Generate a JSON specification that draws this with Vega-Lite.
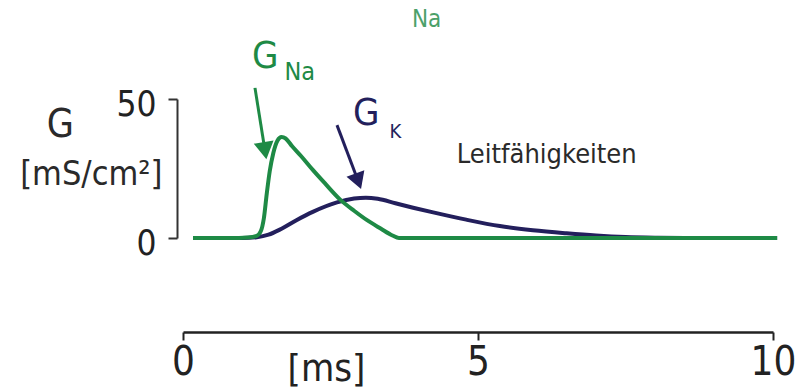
{
  "$schema": "https://vega.github.io/schema/vega-lite/v6.json",
  "width": 590,
  "height": 139,
  "autosize": {"type": "none"},
  "padding": {"left": 183, "top": 99, "right": 32, "bottom": 151},
  "background": "white",
  "config": {
    "view": {"stroke": null},
    "font": "Liberation Sans Narrow, Arial Narrow, DejaVu Sans Condensed, Liberation Sans",
    "text": {"font": "Liberation Sans Narrow, Arial Narrow, DejaVu Sans Condensed, Liberation Sans"}
  },
  "datasets": {
    "curves": [
      {"series": "GK", "t": 0.17, "g": 0},
      {"series": "GK", "t": 1.0, "g": 0},
      {"series": "GK", "t": 1.25, "g": 0.3},
      {"series": "GK", "t": 1.45, "g": 1.2},
      {"series": "GK", "t": 1.64, "g": 3},
      {"series": "GK", "t": 1.93, "g": 6.5},
      {"series": "GK", "t": 2.2, "g": 9.4},
      {"series": "GK", "t": 2.61, "g": 12.8},
      {"series": "GK", "t": 2.9, "g": 14.2},
      {"series": "GK", "t": 3.1, "g": 14.5},
      {"series": "GK", "t": 3.3, "g": 14.1},
      {"series": "GK", "t": 3.6, "g": 12.5},
      {"series": "GK", "t": 3.9, "g": 10.9},
      {"series": "GK", "t": 4.24, "g": 9.2},
      {"series": "GK", "t": 4.8, "g": 6.6},
      {"series": "GK", "t": 5.37, "g": 4.3},
      {"series": "GK", "t": 5.93, "g": 2.8},
      {"series": "GK", "t": 6.5, "g": 1.7},
      {"series": "GK", "t": 7.0, "g": 0.9},
      {"series": "GK", "t": 7.5, "g": 0.35},
      {"series": "GK", "t": 8.0, "g": 0.1},
      {"series": "GK", "t": 8.5, "g": 0},
      {"series": "GK", "t": 10.07, "g": 0},
      {"series": "GNa", "t": 0.17, "g": 0},
      {"series": "GNa", "t": 0.8, "g": 0},
      {"series": "GNa", "t": 1.1, "g": 0.2},
      {"series": "GNa", "t": 1.25, "g": 0.8},
      {"series": "GNa", "t": 1.32, "g": 2.5},
      {"series": "GNa", "t": 1.37, "g": 7},
      {"series": "GNa", "t": 1.42, "g": 16},
      {"series": "GNa", "t": 1.47, "g": 24},
      {"series": "GNa", "t": 1.53, "g": 30.5},
      {"series": "GNa", "t": 1.6, "g": 35},
      {"series": "GNa", "t": 1.67, "g": 36.3},
      {"series": "GNa", "t": 1.74, "g": 35.8},
      {"series": "GNa", "t": 1.85, "g": 33},
      {"series": "GNa", "t": 2.0, "g": 29.5},
      {"series": "GNa", "t": 2.2, "g": 24.5},
      {"series": "GNa", "t": 2.4, "g": 19.8},
      {"series": "GNa", "t": 2.66, "g": 13.9},
      {"series": "GNa", "t": 2.9, "g": 9.8},
      {"series": "GNa", "t": 3.12, "g": 6.4},
      {"series": "GNa", "t": 3.35, "g": 3.4},
      {"series": "GNa", "t": 3.55, "g": 0.9},
      {"series": "GNa", "t": 3.66, "g": 0},
      {"series": "GNa", "t": 10.07, "g": 0}
    ],
    "arrows": [
      {"series": "GNa", "t": 1.22, "g": 54, "t2": 1.39, "g2": 31.4},
      {"series": "GK", "t": 2.61, "g": 40.6, "t2": 2.97, "g2": 20.4}
    ]
  },
  "layer": [
    {
      "data": {"name": "curves"},
      "transform": [{"filter": "datum.series == 'GK'"}],
      "mark": {"type": "line", "color": "#231f5c", "strokeWidth": 4, "interpolate": "monotone"},
      "encoding": {
        "x": {"field": "t", "type": "quantitative", "scale": {"domain": [0, 10], "nice": false},
          "axis": {"orient": "bottom", "offset": 94, "values": [0, 5, 10], "format": "d", "grid": false, "labelFlush": false,
            "domainColor": "#222", "domainWidth": 2.5, "tickColor": "#222", "tickWidth": 2, "tickSize": 8,
            "labelFontSize": 40, "labelColor": "#222", "labelPadding": 2, "labelFontWeight": "normal",
            "title": "[ms]", "titleFontSize": 38, "titleFontWeight": "normal", "titleColor": "#222",
            "titleX": 143, "titleY": 48, "titleAlign": "center", "titleBaseline": "alphabetic"}},
        "y": {"field": "g", "type": "quantitative", "scale": {"domain": [0, 50], "nice": false},
          "axis": {"orient": "left", "offset": 6, "values": [0, 50], "format": "d", "grid": false, "labelFlush": false,
            "labelOffset": 5, "labelBaseline": "middle",
            "domainColor": "#333", "domainWidth": 2, "tickColor": "#333", "tickWidth": 2, "tickSize": 9,
            "labelFontSize": 35, "labelColor": "#222", "labelPadding": 12, "title": null}}
      }
    },
    {
      "data": {"name": "curves"},
      "transform": [{"filter": "datum.series == 'GNa'"}],
      "mark": {"type": "line", "color": "#1e8a45", "strokeWidth": 4, "interpolate": "monotone"},
      "encoding": {
        "x": {"field": "t", "type": "quantitative"},
        "y": {"field": "g", "type": "quantitative"}
      }
    },
    {
      "data": {"name": "arrows"},
      "mark": {"type": "rule", "strokeWidth": 3},
      "encoding": {
        "x": {"field": "t", "type": "quantitative"},
        "y": {"field": "g", "type": "quantitative"},
        "x2": {"field": "t2"},
        "y2": {"field": "g2"},
        "color": {"field": "series", "type": "nominal", "scale": {"domain": ["GNa", "GK"], "range": ["#1e8a45", "#231f5c"]}, "legend": null}
      }
    },
    {
      "data": {"name": "arrows"},
      "transform": [{"filter": "datum.series == 'GNa'"}],
      "mark": {"type": "point", "shape": "triangle-down", "filled": true, "size": 400, "angle": -9, "opacity": 1, "color": "#1e8a45"},
      "encoding": {
        "x": {"field": "t2", "type": "quantitative"},
        "y": {"field": "g2", "type": "quantitative"}
      }
    },
    {
      "data": {"name": "arrows"},
      "transform": [{"filter": "datum.series == 'GK'"}],
      "mark": {"type": "point", "shape": "triangle-down", "filled": true, "size": 360, "angle": -20, "opacity": 1, "color": "#231f5c"},
      "encoding": {
        "x": {"field": "t2", "type": "quantitative"},
        "y": {"field": "g2", "type": "quantitative"}
      }
    },
    {
      "data": {"values": [
        {"label": "G", "series": "GNa", "t": 1.17, "g": 61.2},
        {"label": "G", "series": "GK", "t": 2.88, "g": 40.6}
      ]},
      "mark": {"type": "text", "fontSize": 38, "align": "left", "baseline": "alphabetic"},
      "encoding": {
        "x": {"field": "t", "type": "quantitative"},
        "y": {"field": "g", "type": "quantitative"},
        "text": {"field": "label"},
        "color": {"field": "series", "type": "nominal", "legend": null}
      }
    },
    {
      "data": {"values": [{"label": "Na", "t": 1.72, "g": 56.8}]},
      "mark": {"type": "text", "fontSize": 25, "align": "left", "baseline": "alphabetic", "color": "#1e8a45"},
      "encoding": {
        "x": {"field": "t", "type": "quantitative"},
        "y": {"field": "g", "type": "quantitative"},
        "text": {"field": "label"}
      }
    },
    {
      "data": {"values": [{"label": "Na", "t": 3.88, "g": 75.9}]},
      "mark": {"type": "text", "fontSize": 24, "align": "left", "baseline": "alphabetic", "color": "#1e8a45", "opacity": 0.8},
      "encoding": {
        "x": {"field": "t", "type": "quantitative"},
        "y": {"field": "g", "type": "quantitative"},
        "text": {"field": "label"}
      }
    },
    {
      "data": {"values": [{"label": "K", "t": 3.5, "g": 36}]},
      "mark": {"type": "text", "fontSize": 20, "align": "left", "baseline": "alphabetic", "color": "#231f5c"},
      "encoding": {
        "x": {"field": "t", "type": "quantitative"},
        "y": {"field": "g", "type": "quantitative"},
        "text": {"field": "label"}
      }
    },
    {
      "data": {"values": [{"label": "Leitfähigkeiten", "t": 4.64, "g": 27}]},
      "mark": {"type": "text", "fontSize": 27, "align": "left", "baseline": "alphabetic", "color": "#2a2a2a"},
      "encoding": {
        "x": {"field": "t", "type": "quantitative"},
        "y": {"field": "g", "type": "quantitative"},
        "text": {"field": "label"}
      }
    },
    {
      "data": {"values": [{"label": "G", "t": -2.31, "g": 36.3}]},
      "mark": {"type": "text", "fontSize": 39, "align": "left", "baseline": "alphabetic", "color": "#2a2a2a"},
      "encoding": {
        "x": {"field": "t", "type": "quantitative"},
        "y": {"field": "g", "type": "quantitative"},
        "text": {"field": "label"}
      }
    },
    {
      "data": {"values": [{"label": "[mS/cm²]", "t": -2.76, "g": 19.1}]},
      "mark": {"type": "text", "fontSize": 34, "align": "left", "baseline": "alphabetic", "color": "#2a2a2a"},
      "encoding": {
        "x": {"field": "t", "type": "quantitative"},
        "y": {"field": "g", "type": "quantitative"},
        "text": {"field": "label"}
      }
    }
  ]
}
